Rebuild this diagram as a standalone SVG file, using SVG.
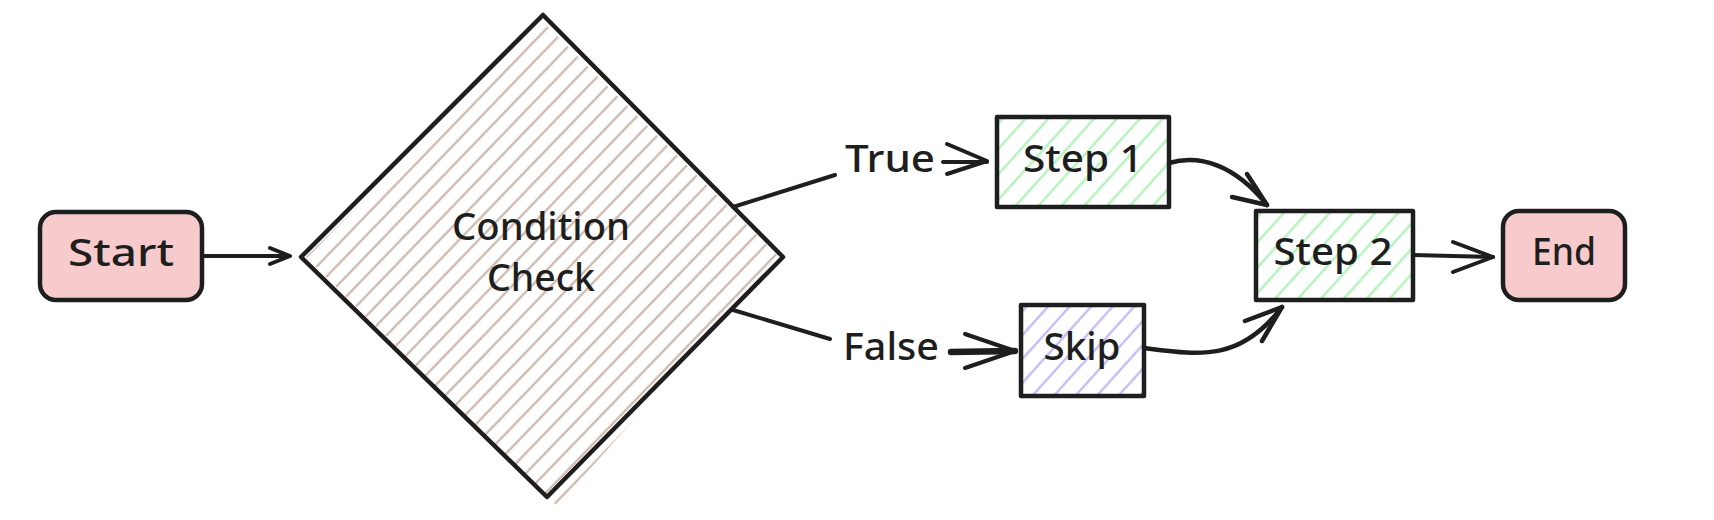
<svg xmlns="http://www.w3.org/2000/svg" width="1714" height="520" viewBox="0 0 1714 520">
  <style>
    .outline { stroke: #1e1e1e; stroke-width: 4.5; stroke-linejoin: round; stroke-linecap: round; }
    .edge { fill: none; stroke: #1e1e1e; stroke-width: 4; stroke-linecap: round; stroke-linejoin: round; }
    .lbl { font-family: "Noto Sans", "Liberation Sans", sans-serif; font-size: 38px; font-weight: 500; fill: #1e1e1e; text-anchor: middle; }
  </style>
  <defs>
    <pattern id="hatchBrown" width="14" height="14" patternUnits="userSpaceOnUse" patternTransform="rotate(-46)">
      <line x1="0" y1="7" x2="14" y2="7" stroke="#cdbab0" stroke-width="2.4"/>
    </pattern>
    <pattern id="hatchGreen" width="17" height="17" patternUnits="userSpaceOnUse" patternTransform="rotate(-48)">
      <line x1="0" y1="8.5" x2="17" y2="8.5" stroke="#b2f2bb" stroke-width="2.4"/>
    </pattern>
    <pattern id="hatchViolet" width="16" height="16" patternUnits="userSpaceOnUse" patternTransform="rotate(-48)">
      <line x1="0" y1="8" x2="16" y2="8" stroke="#c6bbf7" stroke-width="2.4"/>
    </pattern>
  </defs>
  <rect width="1714" height="520" fill="#ffffff"/>

  <g id="start">
    <rect x="40" y="212" width="162" height="88" rx="16" fill="#f7cbcb" class="outline"/>
    <text class="lbl" x="121" y="266" textLength="106" lengthAdjust="spacingAndGlyphs">Start</text>
  </g>

  <g id="condition">
    <polygon points="543,22 779,257 557,506 306,257" fill="url(#hatchBrown)"/>
    <polygon points="543,15 783,257 547,497 301,257" fill="none" class="outline"/>
    <text class="lbl" x="541" y="240" textLength="178" lengthAdjust="spacingAndGlyphs">Condition</text>
    <text class="lbl" x="541" y="291" textLength="108" lengthAdjust="spacingAndGlyphs">Check</text>
  </g>

  <g id="step1">
    <rect x="997" y="117" width="172" height="90" fill="url(#hatchGreen)" class="outline"/>
    <text class="lbl" x="1083" y="172" textLength="120" lengthAdjust="spacingAndGlyphs">Step 1</text>
  </g>

  <g id="skip">
    <rect x="1021" y="305" width="123" height="91" fill="url(#hatchViolet)" class="outline"/>
    <text class="lbl" x="1082" y="360" textLength="77" lengthAdjust="spacingAndGlyphs">Skip</text>
  </g>

  <g id="step2">
    <rect x="1256" y="211" width="157" height="89" fill="url(#hatchGreen)" class="outline"/>
    <text class="lbl" x="1333" y="265" textLength="119" lengthAdjust="spacingAndGlyphs">Step 2</text>
  </g>

  <g id="end">
    <rect x="1503" y="211" width="122" height="89" rx="16" fill="#f7cbcb" class="outline"/>
    <text class="lbl" x="1564" y="265" textLength="64" lengthAdjust="spacingAndGlyphs">End</text>
  </g>

  <g id="connectors">
    <!-- Start -> Condition -->
    <path class="edge" d="M203,256 L289,256"/>
    <path class="edge" d="M270,248 L290,256 L270,264"/>
    <!-- Condition -> Step 1 (True) -->
    <path class="edge" d="M733,207 L835,175"/>
    <path class="edge" d="M943,162 L987,162"/>
    <path class="edge" d="M947,144 L987,161 L947,174"/>
    <text class="lbl" x="890" y="172" textLength="90" lengthAdjust="spacingAndGlyphs">True</text>
    <!-- Condition -> Skip (False) -->
    <path class="edge" d="M733,310 L830,339"/>
    <path class="edge" style="stroke-width:6.5" d="M951,352 L1015,351"/>
    <path class="edge" d="M965,334 L1015,351 L965,368"/>
    <text class="lbl" x="891" y="360" textLength="96" lengthAdjust="spacingAndGlyphs">False</text>
    <!-- Step 1 -> Step 2 -->
    <path class="edge" style="stroke-width:4.5" d="M1169,163 C1200,154 1235,165 1267,205"/>
    <path class="edge" style="stroke-width:4.5" d="M1247,174 L1267,205 L1232,197"/>
    <!-- Skip -> Step 2 -->
    <path class="edge" style="stroke-width:4.5" d="M1144,348 C1200,355 1240,362 1282,307"/>
    <path class="edge" style="stroke-width:4.5" d="M1245,321 L1282,307 L1262,341"/>
    <!-- Step 2 -> End -->
    <path class="edge" d="M1413,255 L1493,257"/>
    <path class="edge" d="M1453,242 L1493,257 L1453,272"/>
  </g>
</svg>
